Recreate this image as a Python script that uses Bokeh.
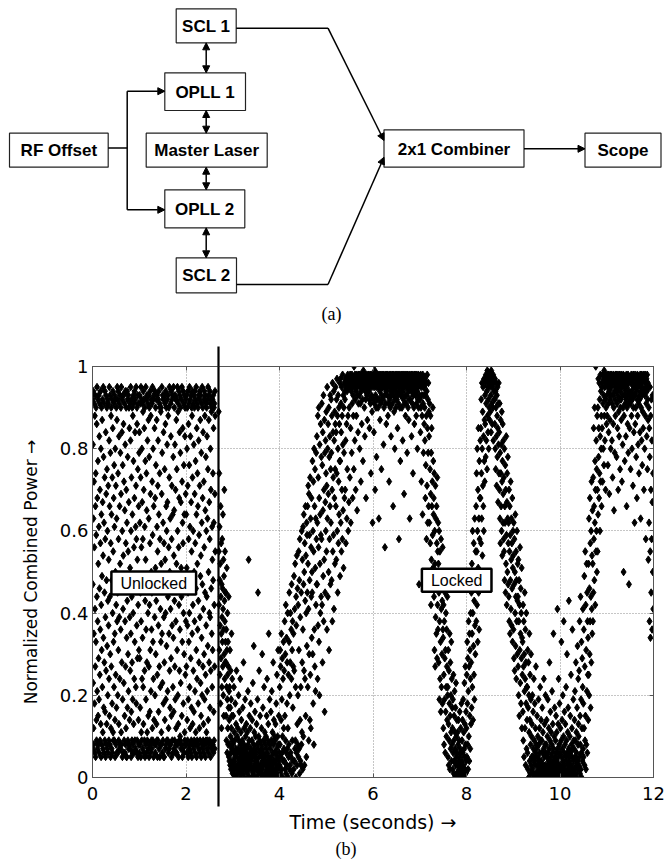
import numpy as np
from bokeh.plotting import figure
from bokeh.layouts import column
from bokeh.models import (Range1d, Arrow, NormalHead, Label, LinearAxis,
                          FixedTicker, ColumnDataSource, Title)
from bokeh.core.properties import value
from bokeh.embed import file_html
from bokeh.resources import INLINE

# ---------------- data ----------------
x_ticks = [0, 2, 4, 6, 8, 10, 12]
y_ticks = [0, 0.2, 0.4, 0.6, 0.8, 1]
y_tick_labels = ["0", "0.2", "0.4", "0.6", "0.8", "1"]
lock_time = 2.7
x_label = "Time (seconds) \u2192"
y_label = "Normalized Combined Power \u2192"
region_labels = ["Unlocked", "Locked"]
region_x = [1.31, 7.79]
region_y = [0.473, 0.480]

# recording segments (seconds); samples are evenly spaced inside each segment
segment_start = [0.0, 1.0, 2.0, 2.7, 3.0, 4.0, 5.0, 6.0, 7.0, 8.0, 9.0, 10.0, 11.0]
segment_end = [1.0, 2.0, 2.63, 3.0, 4.0, 5.0, 6.0, 7.0, 8.0, 9.0, 10.0, 11.0, 12.0]

# normalized combined power in percent
power_unlocked_a = [
92,7,47,81,23,94,63,12,8,35,72,91,56,18,6,88,41,93,27,66,
5,74,33,90,59,14,9,86,44,95,21,68,7,38,92,77,15,52,8,29,
93,61,19,6,83,46,91,25,70,9,36,57,94,13,80,5,42,64,90,31,
8,49,87,22,92,67,11,7,54,95,34,78,17,6,62,91,28,45,73,9,
94,16,58,39,5,84,93,26,69,8,48,13,90,75,32,7,60,92,20,43,
6,71,91,37,53,9,24,82,95,15,66,8,44,93,30,79,5,57,12,88,
90,27,64,7,48,92,18,73,6,40,85,94,11,55,9,33,68,91,22,76,
9,61,93,35,14,5,80,50,92,25,71,8,42,90,17,63,6,87,38,95,
92,45,20,6,74,94,31,58,9,13,83,91,39,7,66,24,93,52,8,79,
7,36,90,69,11,95,47,8,28,84,92,60,5,19,76,93,41,6,54,86,
93,23,72,9,49,91,15,65,6,38,81,94,27,8,57,12,90,70,5,34,
5,62,94,43,17,92,78,9,30,55,93,21,7,67,90,46,8,85,14,39,
91,51,26,7,82,95,35,60,5,16,73,92,44,9,28,90,64,6,19,88,
8,40,93,77,13,91,56,6,24,68,94,33,9,84,92,48,7,61,22,71,
95,18,58,6,37,90,86,9,53,29,93,75,5,42,91,14,66,8,31,79]
power_unlocked_b = [
6,84,93,29,62,8,17,91,45,73,5,95,38,11,56,92,9,80,24,67,
91,34,7,58,89,22,94,13,6,70,47,92,85,9,26,61,90,5,43,77,
8,53,95,19,36,92,74,6,65,28,93,11,9,82,49,91,40,7,15,87,
93,63,27,5,78,90,42,8,16,57,94,31,69,6,88,21,92,50,9,36,
7,45,91,72,12,95,59,9,33,80,92,24,5,66,93,14,47,8,85,39,
94,20,68,6,51,90,30,76,8,43,92,13,87,9,61,93,25,5,55,71,
9,82,92,37,16,94,64,7,48,27,91,74,5,58,90,22,41,8,89,33,
90,52,11,8,69,95,35,79,6,23,93,46,9,62,92,18,84,5,39,57,
5,28,93,75,14,91,53,7,86,40,94,19,8,66,90,32,60,9,47,81,
92,67,21,9,44,93,88,6,12,56,90,35,7,73,95,26,50,8,17,63,
8,41,91,83,29,94,15,5,58,71,92,37,9,48,93,64,22,6,78,34,
95,16,54,7,65,90,43,9,27,81,93,19,6,70,92,38,12,8,87,52,
6,75,92,31,47,95,60,8,20,89,91,13,5,56,94,42,68,9,26,84,
93,36,10,9,79,90,23,67,7,51,92,44,8,15,95,72,33,5,62,85,
7,57,94,18,40,91,76,6,30,64,93,11,9,83,90,46,25,8,69,38]
power_unlocked_c = [
92,8,64,27,93,51,6,80,14,90,37,9,71,94,45,5,19,86,58,33,
91,7,76,40,95,22,8,61,12,92,83,6,29,48,93,67,9,17,55,90,
5,88,35,94,73,13,8,42,91,60,26,7,93,81,16,50,9,90,38,69,
94,21,6,57,92,77,11,8,46,95,31,64,5,85,91,24,9,52,74,36,
8,66,90,18,43,93,82,7,28,59,92,12,6,71,94,39,9,87,49,23,
93,54,15,5,79,91,34,62,8,20,95,47,7,68,90,27,84,9,41,13,
6,72,92,30,56,94,19,8,88,45,93,65,5,25,91,78,9,37,60,11,
90,44,7,83,21,92,63,9,32,75,95,14,6,50,93,87,8,28,67,40,
9,58,94,17,39,91,80,5,26,70,92,46,7,89,90,35,8,61,22,53,
92,31,8,74,48,93,6,85,16,62,90,9,42,91,27,7,69,94,88,55]
power_lock_transition = [
89,55,42,74,31,61,48,25,37,52,18,66,44,29,57,35,12,47,22,39,
58,33,46,27,64,41,20,53,36,15,49,30,70,43,24,38,55,28,45,33,
45,28,15,36,9,22,51,31,6,19,40,25,12,33,8,27,17,44,5,21,
14,4,22,8,31,3,17,10,26,6,2,19,12,35,7,15,4,24,9,1]
power_pct_03 = [
3,8,15,1,6,22,4,11,2,9,5,18,0,7,13,3,26,6,2,10,
5,1,12,7,3,20,9,4,16,2,6,0,24,8,3,11,5,14,1,7,
2,9,4,17,6,1,28,3,8,12,5,0,7,19,2,10,4,6,13,3,
7,3,11,1,5,21,8,2,53,4,9,15,0,6,3,12,7,18,2,5,
4,0,9,14,2,6,23,5,1,8,32,3,11,7,2,16,5,0,10,4,
6,2,13,4,8,0,19,3,45,7,1,10,5,26,2,9,3,15,6,1,
3,8,1,12,5,2,30,7,4,17,0,6,9,3,22,5,1,11,4,8,
5,1,10,3,7,15,2,24,6,0,9,4,13,2,35,5,8,1,19,3,
2,7,4,16,1,9,5,21,3,0,11,6,2,28,8,4,14,1,6,10,
4,9,2,13,6,1,18,3,7,25,5,0,10,2,31,8,4,15,3,6]
power_pct_04 = [
3,22,8,31,1,27,5,14,35,2,19,6,29,10,0,24,4,33,12,7,
26,4,38,15,2,30,9,42,1,6,34,3,18,28,7,40,12,0,25,5,
8,33,45,2,20,3,28,40,6,5,36,24,47,1,31,9,38,17,4,27,
35,2,49,26,4,41,7,52,9,22,0,44,37,6,54,3,13,46,8,20,
42,5,55,31,7,48,1,58,14,39,4,22,3,45,8,60,11,28,53,2,
36,61,10,47,64,26,50,3,57,24,43,66,15,54,40,5,62,32,59,45,
66,22,52,71,41,9,69,30,59,48,14,73,25,63,12,56,44,68,34,50,
45,77,30,60,18,72,55,8,80,36,66,27,75,51,21,63,42,79,58,47,
83,47,62,24,88,37,73,56,90,33,68,20,81,52,64,40,86,59,44,78,
58,91,42,76,28,84,65,49,93,38,70,53,87,16,79,45,67,82,60,74]
power_pct_05 = [
89,55,71,36,95,63,80,44,86,69,50,90,31,78,58,83,66,93,47,75,
62,92,79,48,88,70,38,96,55,84,73,59,94,41,82,68,89,52,75,86,
95,66,84,53,92,74,97,60,88,45,80,93,57,72,90,64,86,77,96,49,
77,97,62,91,84,55,95,70,88,58,98,81,65,93,51,90,79,96,68,94,
92,70,97,82,57,95,96,86,63,94,75,97,98,88,60,96,95,67,90,97,
96,73,98,95,85,62,97,94,96,79,98,91,95,68,97,93,88,96,75,100,
97,95,82,98,92,96,70,97,94,88,98,96,65,95,93,97,84,98,91,96,
96,98,93,80,97,95,91,98,72,96,94,97,86,98,95,92,97,77,96,99,
98,95,97,90,96,83,98,94,97,92,68,96,98,95,93,97,87,96,94,98,
97,94,98,96,92,85,97,95,98,91,96,74,97,93,98,95,89,96,62,97]
power_pct_06 = [
97,92,98,96,84,95,91,97,99,70,96,93,98,90,95,78,97,92,96,98,
96,98,90,95,97,63,92,98,96,94,87,97,95,91,98,96,75,93,97,95,
98,95,92,97,96,81,98,90,95,97,93,56,96,98,91,97,94,86,95,98,
95,97,93,98,88,96,91,97,95,72,98,92,96,97,90,94,98,83,96,93,
97,94,98,91,96,95,66,97,93,98,89,95,97,80,92,96,98,94,90,97,
96,98,92,95,97,85,93,98,96,91,97,58,95,98,94,90,97,77,96,93,
98,93,97,95,90,96,98,82,94,97,92,98,95,69,96,91,97,98,93,88,
95,97,91,98,96,93,79,97,95,98,90,96,94,87,97,92,98,63,95,96,
97,92,96,98,94,83,95,97,91,98,96,74,93,97,95,90,98,86,96,94,
96,98,93,95,97,88,91,98,96,94,80,97,92,95,98,90,96,47,97,93]
power_pct_07 = [
97,92,96,84,98,90,95,72,97,93,88,96,64,98,91,95,79,97,93,86,
95,90,82,97,68,93,76,96,88,58,94,71,98,85,62,92,79,96,66,89,
83,62,91,48,75,57,88,69,42,79,53,85,66,46,72,59,90,51,77,64,
68,44,74,31,60,52,27,71,39,63,48,35,66,57,29,73,42,55,36,62,
52,28,45,60,19,38,55,24,47,33,16,58,41,22,50,30,43,18,56,36,
34,12,42,25,8,38,19,29,45,6,31,16,40,22,10,36,27,14,44,20,
22,5,31,13,3,26,9,18,35,2,15,28,7,20,11,33,4,24,8,17,
12,2,19,6,25,1,9,15,4,21,0,11,7,17,3,23,5,10,1,14,
6,1,11,3,8,0,14,4,2,9,5,16,1,7,3,12,0,6,18,2,
4,9,1,14,6,2,19,3,11,0,7,23,5,13,2,27,8,1,16,4]
power_pct_08 = [
12,25,5,33,18,8,29,2,21,38,10,27,4,35,15,31,7,24,40,13,
28,45,17,52,35,22,60,40,14,48,32,57,25,43,19,63,37,50,30,55,
47,66,38,74,55,42,80,60,33,70,51,85,45,63,36,77,58,68,49,82,
68,85,57,92,74,63,96,80,54,89,71,95,66,83,60,97,77,87,72,93,
86,96,78,98,91,82,97,94,75,99,88,95,84,97,92,80,98,90,96,87,
95,98,89,97,93,84,99,96,91,98,86,95,97,90,98,82,96,94,97,92,
92,86,97,80,94,75,90,96,83,71,93,88,78,95,85,67,91,81,96,74,
84,70,91,63,79,57,87,74,66,81,60,89,72,54,77,86,62,69,82,58,
73,55,80,48,66,62,76,45,70,52,83,59,42,67,74,50,63,78,47,57,
62,44,70,38,55,66,35,59,48,72,41,53,63,37,57,46,68,33,51,60]
power_pct_09 = [
54,36,62,29,47,58,26,50,40,64,32,44,55,24,48,38,60,30,43,52,
44,27,53,20,38,48,15,42,31,56,23,35,46,18,40,29,51,12,34,25,
33,16,42,9,27,38,5,30,21,45,12,24,36,3,28,18,40,7,22,14,
22,6,31,2,17,28,0,20,11,35,4,14,25,1,8,19,30,3,10,5,
13,2,20,5,0,16,7,1,24,4,9,0,18,3,6,12,1,27,5,8,
7,1,15,3,0,10,5,2,19,4,8,0,12,6,1,22,3,9,2,14,
4,0,9,2,17,6,1,11,3,0,7,24,2,5,13,1,8,3,20,6,
2,8,0,14,5,1,10,3,19,6,0,4,12,2,7,28,1,9,3,16,
5,1,11,3,0,8,21,2,6,13,4,0,35,7,2,10,1,17,5,3,
3,9,1,15,6,0,11,4,2,41,7,1,13,5,24,3,0,8,18,2]
power_pct_10 = [
6,1,12,3,0,9,33,5,2,14,7,1,20,4,0,10,38,3,6,16,
2,8,0,13,5,1,22,4,9,0,30,6,2,11,3,17,1,7,43,5,
4,0,10,2,15,6,1,25,3,8,0,12,5,36,2,7,1,19,4,9,
7,2,14,0,21,5,9,1,28,3,11,6,0,17,4,32,2,8,24,13,
10,3,26,5,38,1,15,8,44,2,19,6,33,0,12,29,4,22,41,7,
18,5,36,12,49,3,27,9,55,15,42,2,31,8,52,21,45,6,38,25,
34,14,52,25,63,20,46,30,68,38,57,17,44,60,28,72,41,54,35,65,
52,38,73,45,85,58,66,48,90,62,77,42,70,100,55,82,60,75,50,88,
70,55,90,64,97,78,85,68,96,74,92,60,83,98,72,94,80,88,66,95,
85,96,72,98,91,80,97,93,76,99,88,95,82,97,92,70,98,90,96,86]
power_pct_11 = [
97,93,88,98,95,76,96,91,84,98,94,69,97,92,87,95,98,80,93,96,
95,98,82,91,97,73,96,93,86,98,90,65,97,94,79,96,92,88,98,95,
98,94,78,96,91,97,85,93,98,70,95,89,97,83,96,92,98,75,94,90,
96,92,87,98,95,72,97,93,81,96,90,98,50,95,88,97,93,77,96,91,
94,97,83,92,98,66,95,90,97,86,93,98,79,96,91,47,94,97,85,92,
97,91,75,96,93,98,88,94,80,97,92,96,71,98,90,95,84,97,93,62,
93,98,86,95,90,97,78,94,96,68,92,98,88,95,81,97,91,96,74,93,
96,92,84,98,94,63,97,90,95,82,98,93,76,96,89,97,85,94,98,70,
94,97,80,93,98,88,95,58,96,91,97,83,94,98,75,92,96,87,53,95,
90,62,85,38,78,95,55,34,88,70,45,92,58,82,36,67,93,50,74,41]

segments = [power_unlocked_a, power_unlocked_b, power_unlocked_c, power_lock_transition,
            power_pct_03, power_pct_04, power_pct_05, power_pct_06, power_pct_07,
            power_pct_08, power_pct_09, power_pct_10, power_pct_11]

t_all = np.concatenate([a + (b - a) * np.arange(len(v)) / len(v)
                        for a, b, v in zip(segment_start, segment_end, segments)])
p_all = np.concatenate([np.array(v, dtype=float) for v in segments]) / 100.0

# ---------------- block diagram (layout in page pixels) ----------------
blocks = [
    ("SCL 1", 175.7, 235.7, 8.3, 42.3),
    ("OPLL 1", 164.3, 245.0, 72.3, 110.0),
    ("Master Laser", 145.7, 266.7, 132.7, 166.7),
    ("RF Offset", 9.0, 107.7, 132.7, 166.7),
    ("OPLL 2", 164.3, 244.3, 189.3, 227.3),
    ("SCL 2", 175.7, 236.0, 257.3, 292.3),
    ("2x1 Combiner", 383.5, 523.5, 129.3, 166.7),
    ("Scope", 584.5, 660.5, 132.7, 166.7),
]

d = figure(width=665, height=338, x_range=Range1d(0, 665), y_range=Range1d(338, 0),
           output_backend="svg", toolbar_location=None, min_border=0,
           x_axis_location=None, y_axis_location=None, outline_line_color=None)
d.grid.visible = False
d.frame_align = False

bsrc = ColumnDataSource(dict(
    name=[b[0] for b in blocks], left=[b[1] for b in blocks], right=[b[2] for b in blocks],
    top=[b[3] for b in blocks], bottom=[b[4] for b in blocks],
    cx=[(b[1] + b[2]) / 2 for b in blocks], cy=[(b[3] + b[4]) / 2 + 0.5 for b in blocks]))
d.quad(left="left", right="right", top="top", bottom="bottom", source=bsrc,
       fill_color="white", line_color="#222222", line_width=1.2)
d.text(x="cx", y="cy", text="name", source=bsrc, text_font=value("Liberation Sans"),
       text_font_style="bold", text_font_size="17px", text_align="center",
       text_baseline="middle", text_color="black")

d.multi_line(xs=[[107.7, 126.7], [126.7, 126.7], [235.7, 327.5], [236.0, 327.5]],
             ys=[[147.5, 147.5], [90.7, 209.3], [27.7, 27.7], [284.0, 284.0]],
             line_color="black", line_width=1.5)

def arrow(x0, y0, x1, y1, double=False):
    head = NormalHead(size=7, fill_color="black", line_color="black", line_width=1)
    start = NormalHead(size=7, fill_color="black", line_color="black", line_width=1) if double else None
    d.add_layout(Arrow(start=start, end=head, x_start=x0, y_start=y0, x_end=x1, y_end=y1,
                       line_color="black", line_width=1.5))

arrow(126.7, 90.7, 164.3, 90.7)
arrow(126.7, 209.3, 164.3, 209.3)
arrow(327.5, 27.7, 383.5, 140.0)
arrow(327.5, 284.0, 383.5, 156.7)
arrow(523.5, 148.3, 584.5, 148.3)
for ya, yb in [(42.3, 72.3), (110.0, 132.7), (166.7, 189.3), (227.3, 257.3)]:
    arrow(205.7, ya, 205.7, yb, double=True)

d.text(x=[331], y=[313], text=["(a)"], text_font=value("Liberation Serif"),
       text_font_size="18px", text_align="center", text_baseline="middle", text_color="black")

# ---------------- scatter plot ----------------
p = figure(width=665, height=525, x_range=Range1d(0, 12), y_range=Range1d(0, 1),
           output_backend="svg", toolbar_location=None,
           min_border_left=92, min_border_right=12, min_border_top=28, min_border_bottom=86)
p.frame_align = False

p.scatter(t_all, p_all, marker="diamond", size=7.5, fill_color="black", line_color="black")

frame_col = "#555555"
p.outline_line_color = frame_col
p.outline_line_width = 1

# the lock instant is marked by a long minor tick that crosses the frame
p.xaxis.ticker = FixedTicker(ticks=x_ticks, minor_ticks=[lock_time])
p.yaxis.ticker = FixedTicker(ticks=y_ticks)
p.yaxis.major_label_overrides = dict(zip(y_ticks, y_tick_labels))
for ax in [p.xaxis[0], p.yaxis[0]]:
    ax.major_tick_in = 4
    ax.major_tick_out = 0
    ax.axis_line_color = frame_col
    ax.major_tick_line_color = frame_col
    ax.major_label_text_font = "DejaVu Sans"
    ax.major_label_text_font_size = "18px"
    ax.major_label_text_color = "black"
    ax.axis_label_text_font = "DejaVu Sans"
    ax.axis_label_text_font_style = "normal"
    ax.axis_label_text_color = "black"
p.yaxis.minor_tick_line_color = None
p.xaxis.minor_tick_in = 411
p.xaxis.minor_tick_out = 29
p.xaxis.minor_tick_line_color = "black"
p.xaxis.minor_tick_line_width = 2.2
p.xaxis.major_label_standoff = -20
p.yaxis.major_label_standoff = 4
p.xaxis.axis_label = x_label
p.xaxis.axis_label_text_font_size = "19px"
p.xaxis.axis_label_standoff = 8
p.yaxis.axis_label = y_label
p.yaxis.axis_label_text_font_size = "17px"
p.yaxis.axis_label_standoff = 16

top_ax = LinearAxis(ticker=FixedTicker(ticks=x_ticks, minor_ticks=[lock_time]),
                    major_tick_in=4, major_tick_out=0, minor_tick_in=0, minor_tick_out=20,
                    minor_tick_line_color="black", minor_tick_line_width=2.2,
                    axis_line_color=frame_col, major_tick_line_color=frame_col,
                    major_label_text_font_size="1px", major_label_text_color=None,
                    major_label_standoff=0)
p.add_layout(top_ax, "above")
right_ax = LinearAxis(ticker=FixedTicker(ticks=y_ticks), major_tick_in=4, major_tick_out=0,
                      minor_tick_line_color=None, axis_line_color=frame_col,
                      major_tick_line_color=frame_col, major_label_text_font_size="1px",
                      major_label_text_color=None, major_label_standoff=0)
p.add_layout(right_ax, "right")

p.grid.grid_line_color = "#8c8c8c"
p.grid.grid_line_dash = "1 2"
p.grid.grid_line_width = 1

for txt, lx, ly in zip(region_labels, region_x, region_y):
    p.add_layout(Label(x=lx, y=ly, text=txt, text_align="center", text_baseline="middle",
                       text_font="Liberation Sans", text_font_size="16px", text_color="black",
                       background_fill_color="white", border_line_color="black",
                       border_line_width=2.5,
                       padding=dict(left=9, right=9, top=3, bottom=3)))

p.add_layout(Title(text="(b)", align="left", offset=243, standoff=2,
                   text_font="Liberation Serif", text_font_size="18px",
                   text_font_style="normal", text_color="black"), "below")

layout = column(d, p, spacing=0)
open("out.html", "w").write(file_html(layout, INLINE))
